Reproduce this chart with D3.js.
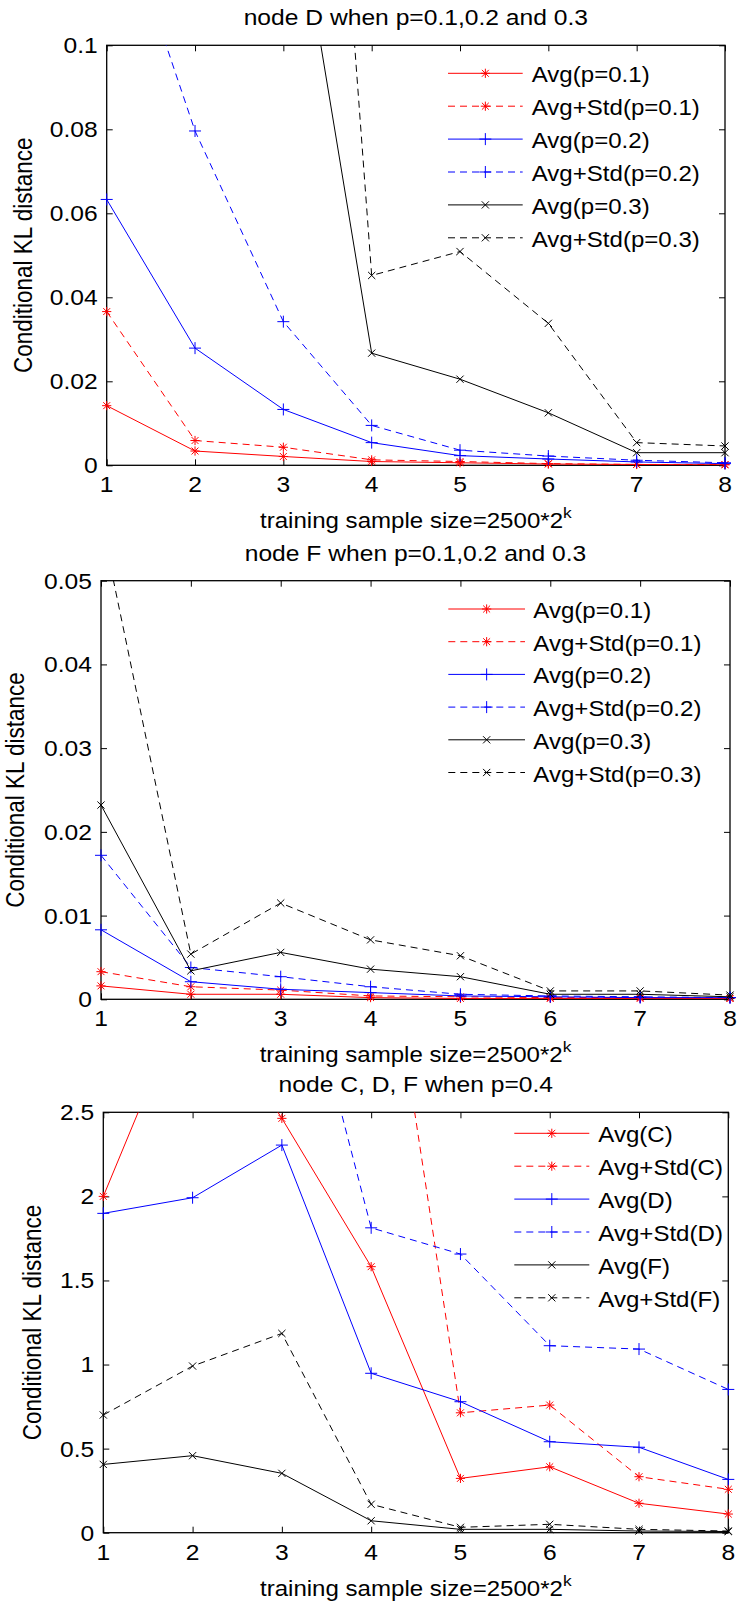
<!DOCTYPE html>
<html>
<head>
<meta charset="utf-8">
<script src="https://cdn.jsdelivr.net/npm/d3@7"></script>
<style>
  html, body { margin: 0; padding: 0; background: #fff; }
  svg { display: block; }
  text { font-family: "Liberation Sans", Arial, Helvetica, sans-serif; fill: #000; }
</style>
</head>
<body>
<svg id="fig" width="738" height="1606"></svg>
<script>
// ---- data -------------------------------------------------------------
// k in training sample size = 2500*2^k
const kValues = [1, 2, 3, 4, 5, 6, 7, 8];

// node D, p = 0.1, 0.2, 0.3 (null = far above the plotted range)
const nodeD_avg01 = [0.0142, 0.0034, 0.0021, 0.0009, 0.0006, 0.0003, 0.0002, 0.0001];
const nodeD_std01 = [0.0366, 0.0059, 0.0043, 0.0013, 0.0009, 0.0004, 0.0002, 0.0002];
const nodeD_avg02 = [0.0633, 0.0279, 0.0133, 0.0054, 0.0023, 0.0015, 0.0008, 0.0004];
const nodeD_std02 = [0.142, 0.0796, 0.0342, 0.0095, 0.0036, 0.0022, 0.0012, 0.0006];
const nodeD_avg03 = [null, null, 0.154, 0.0267, 0.0205, 0.0125, 0.0030, 0.0030];
const nodeD_std03 = [null, null, 0.329, 0.0452, 0.0509, 0.0338, 0.0054, 0.0046];

// node F, p = 0.1, 0.2, 0.3
const nodeF_avg01 = [0.0016, 0.0006, 0.0006, 0.0002, 0.0001, 0.0001, 0.0001, 0.0001];
const nodeF_std01 = [0.0033, 0.0015, 0.0011, 0.0004, 0.0003, 0.0002, 0.0002, 0.0001];
const nodeF_avg02 = [0.0083, 0.0021, 0.0012, 0.0008, 0.0004, 0.0003, 0.0002, 0.0002];
const nodeF_std02 = [0.0172, 0.0038, 0.0027, 0.0015, 0.0006, 0.0004, 0.0003, 0.0002];
const nodeF_avg03 = [0.0232, 0.0034, 0.0056, 0.0036, 0.0027, 0.0006, 0.0006, 0.0003];
const nodeF_std03 = [0.0572, 0.0054, 0.0115, 0.0071, 0.0052, 0.0010, 0.0010, 0.0005];

// nodes C, D, F, p = 0.4
const p04_avgC = [2.00, 3.28, 2.464, 1.582, 0.323, 0.392, 0.175, 0.111];
const p04_stdC = [null, null, null, 4.20, 0.713, 0.759, 0.333, 0.258];
const p04_avgD = [1.899, 1.992, 2.305, 0.948, 0.779, 0.541, 0.508, 0.317];
const p04_stdD = [null, null, 3.86, 1.813, 1.657, 1.112, 1.092, 0.852];
const p04_avgF = [0.406, 0.458, 0.353, 0.071, 0.020, 0.020, 0.010, 0.007];
const p04_stdF = [0.700, 0.991, 1.185, 0.169, 0.032, 0.050, 0.020, 0.010];

// tick values and their printed labels
const xTickLabels = ["1", "2", "3", "4", "5", "6", "7", "8"];
const yTicksD = [0, 0.02, 0.04, 0.06, 0.08, 0.1];
const yTickLabelsD = ["0", "0.02", "0.04", "0.06", "0.08", "0.1"];
const yTicksF = [0, 0.01, 0.02, 0.03, 0.04, 0.05];
const yTickLabelsF = ["0", "0.01", "0.02", "0.03", "0.04", "0.05"];
const yTicksP4 = [0, 0.5, 1, 1.5, 2, 2.5];
const yTickLabelsP4 = ["0", "0.5", "1", "1.5", "2", "2.5"];

// legend entries
const legendP = ["Avg(p=0.1)", "Avg+Std(p=0.1)", "Avg(p=0.2)", "Avg+Std(p=0.2)", "Avg(p=0.3)", "Avg+Std(p=0.3)"];
const legendNodes = ["Avg(C)", "Avg+Std(C)", "Avg(D)", "Avg+Std(D)", "Avg(F)", "Avg+Std(F)"];

const titles = ["node D when p=0.1,0.2 and 0.3", "node F when p=0.1,0.2 and 0.3", "node C, D, F when p=0.4"];

// ---- styling per series slot (colour / dash / marker) ------------------
const styles = [
  { color: "#ff0000", dash: null,  marker: "star"  },
  { color: "#ff0000", dash: "7,5", marker: "star"  },
  { color: "#0000ff", dash: null,  marker: "plus"  },
  { color: "#0000ff", dash: "7,5", marker: "plus"  },
  { color: "#000000", dash: null,  marker: "cross" },
  { color: "#000000", dash: "7,5", marker: "cross" }
];

const panels = [
  {
    title: titles[0], yMax: 0.1, yTicks: yTicksD, yTickLabels: yTickLabelsD,
    series: [nodeD_avg01, nodeD_std01, nodeD_avg02, nodeD_std02, nodeD_avg03, nodeD_std03],
    legend: legendP,
    box: { left: 106.7, right: 725, top: 45.3, bottom: 465.3 },
    leg: { x0: 448, x1: 522.7, tx: 531.7, y0: 73.3, dy: 32.9 },
    yLabelX: 22.5
  },
  {
    title: titles[1], yMax: 0.05, yTicks: yTicksF, yTickLabels: yTickLabelsF,
    series: [nodeF_avg01, nodeF_std01, nodeF_avg02, nodeF_std02, nodeF_avg03, nodeF_std03],
    legend: legendP,
    box: { left: 101, right: 730, top: 580.7, bottom: 999.3 },
    leg: { x0: 448.3, x1: 525, tx: 533.3, y0: 609, dy: 32.7 },
    yLabelX: 15
  },
  {
    title: titles[2], yMax: 2.5, yTicks: yTicksP4, yTickLabels: yTickLabelsP4,
    series: [p04_avgC, p04_stdC, p04_avgD, p04_stdD, p04_avgF, p04_stdF],
    legend: legendNodes,
    box: { left: 103.3, right: 728.3, top: 1112.3, bottom: 1532.7 },
    leg: { x0: 514.3, x1: 589.3, tx: 598.3, y0: 1133.3, dy: 32.9 },
    yLabelX: 32
  }
];

// text in this figure is set a little wider than the font's natural width
const SX = 1.12;
const svg = d3.select("#fig");

function label(parent, x, y, str, size, anchor) {
  const g = parent.append("g").attr("transform", `translate(${x},${y}) scale(${SX},1)`);
  return g.append("text").attr("text-anchor", anchor).attr("font-size", size).text(str);
}

function drawMarker(g, type, x, y, color) {
  const s = type === "plus" ? 6 : (type === "star" ? 4.6 : 3.6);
  let d;
  if (type === "plus") {
    d = `M${x - s},${y}H${x + s}M${x},${y - s}V${y + s}`;
  } else if (type === "cross") {
    d = `M${x - s},${y - s}L${x + s},${y + s}M${x - s},${y + s}L${x + s},${y - s}`;
  } else {
    const a = s * 0.75;
    d = `M${x - s},${y}H${x + s}M${x},${y - s}V${y + s}` +
        `M${x - a},${y - a}L${x + a},${y + a}M${x - a},${y + a}L${x + a},${y - a}`;
  }
  g.append("path").attr("d", d).attr("stroke", color).attr("stroke-width", 1).attr("fill", "none");
}

panels.forEach((p, pi) => {
  const b = p.box;
  const x = d3.scaleLinear().domain([1, 8]).range([b.left, b.right]);
  const y = d3.scaleLinear().domain([0, p.yMax]).range([b.bottom, b.top]);
  const g = svg.append("g");

  const clipId = "clip" + pi;
  svg.append("clipPath").attr("id", clipId)
    .append("rect").attr("x", b.left).attr("y", b.top)
    .attr("width", b.right - b.left).attr("height", b.bottom - b.top);

  // inward tick marks on all four sides
  const tickLen = 6;
  const axes = [
    [d3.axisBottom(x).tickValues(kValues), `translate(0,${b.bottom})`],
    [d3.axisTop(x).tickValues(kValues), `translate(0,${b.top})`],
    [d3.axisLeft(y).tickValues(p.yTicks), `translate(${b.left},0)`],
    [d3.axisRight(y).tickValues(p.yTicks), `translate(${b.right},0)`]
  ];
  axes.forEach(([ax, tr]) => {
    const a = g.append("g").attr("transform", tr)
      .call(ax.tickSize(-tickLen).tickFormat(""));
    a.select(".domain").remove();
    a.selectAll(".tick line").attr("stroke", "#000").attr("stroke-width", 1);
    a.selectAll(".tick text").remove();
  });

  // tick labels
  kValues.forEach((k, i) => {
    label(g, x(k), b.bottom + 27, xTickLabels[i], 22, "middle");
  });
  p.yTicks.forEach((v, i) => {
    label(g, b.left - 9, y(v), p.yTickLabels[i], 22, "end").attr("dy", "0.36em");
  });

  // box
  g.append("rect").attr("x", b.left).attr("y", b.top)
    .attr("width", b.right - b.left).attr("height", b.bottom - b.top)
    .attr("fill", "none").attr("stroke", "#000").attr("stroke-width", 1.3);

  // series lines and markers
  const line = d3.line()
    .defined(d => d.v !== null)
    .x(d => x(d.k)).y(d => y(d.v));

  p.series.forEach((vals, si) => {
    const st = styles[si];
    const pts = kValues.map((k, i) => ({ k, v: vals[i] }));
    g.append("path").datum(pts)
      .attr("d", line)
      .attr("clip-path", `url(#${clipId})`)
      .attr("fill", "none").attr("stroke", st.color).attr("stroke-width", 1)
      .attr("stroke-dasharray", st.dash);
    const mg = g.append("g");
    pts.filter(d => d.v !== null && d.v <= p.yMax)
      .forEach(d => drawMarker(mg, st.marker, x(d.k), y(d.v), st.color));
  });

  // legend
  const L = p.leg;
  p.legend.forEach((name, i) => {
    const st = styles[i];
    const ry = L.y0 + i * L.dy;
    g.append("line").attr("x1", L.x0).attr("x2", L.x1).attr("y1", ry).attr("y2", ry)
      .attr("stroke", st.color).attr("stroke-width", 1).attr("stroke-dasharray", st.dash);
    drawMarker(g, st.marker, (L.x0 + L.x1) / 2, ry, st.color);
    label(g, L.tx, ry + 9, name, 21.5, "start");
  });

  // title
  const cx = (b.left + b.right) / 2;
  label(g, cx, b.top - 20, p.title, 22, "middle");

  // x-axis label with superscript k
  const xl = label(g, cx, b.bottom + 63, "", 21.5, "middle");
  xl.append("tspan").text("training sample size=2500*2");
  xl.append("tspan").attr("dy", -10).attr("font-size", 15.5).text("k");

  // y-axis label (rotated; the widening acts across the glyphs)
  g.append("g")
    .attr("transform", `translate(${p.yLabelX},${(b.top + b.bottom) / 2}) rotate(-90) scale(1,${SX})`)
    .append("text")
    .attr("text-anchor", "middle").attr("dy", "0.36em")
    .attr("font-size", 22.5).text("Conditional KL distance");
});
</script>
</body>
</html>
